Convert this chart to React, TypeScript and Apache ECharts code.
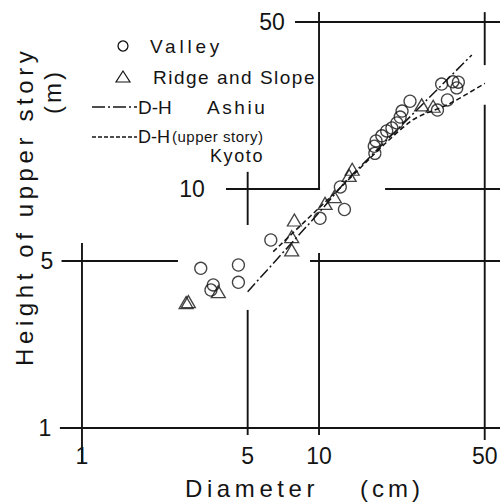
import React, { useEffect, useRef } from "react";
import * as echarts from "echarts";

// ---- data ----
const valleyD = [3.17, 3.58, 3.5, 4.57, 4.57, 6.26, 10.1, 12.8, 12.3, 17.2, 17.1, 17.4, 18.4, 19.3, 20.3, 21.3, 22.0, 22.4, 24.2, 31.6, 34.8, 32.9, 36.7, 38.7, 38.1];
const valleyH = [4.66, 3.97, 3.78, 4.81, 4.07, 6.12, 7.54, 8.21, 10.2, 14.1, 15.1, 15.9, 16.7, 17.5, 18.0, 18.9, 20.0, 21.2, 23.3, 21.4, 23.6, 27.5, 28.1, 28.0, 26.5];

const ridgeD = [2.81, 2.75, 3.76, 7.67, 7.67, 7.87, 10.6, 11.6, 13.4, 13.8, 27.1, 30.3];
const ridgeH = [3.38, 3.35, 3.72, 5.56, 6.32, 7.42, 8.71, 9.29, 11.4, 12.1, 22.5, 22.2];

// D-H curve, Ashiu
const ashiuD = [5.0, 9.94, 13.1, 44.1];
const ashiuH = [3.72, 7.91, 10.9, 36.4];

// D-H (upper story) curve, Kyoto
const kyotoD = [6.41, 12.0, 24.2, 35.7, 50.1];
const kyotoH = [5.47, 9.9, 19.1, 22.8, 27.7];

// axis extents (log scales)
const X_MIN = 0.451;
const X_MAX = 58.0;
const Y_MIN = 0.4856;
const Y_MAX = 61.8;

// tick values
const xTicks = [1, 5, 10, 50];
const yTicks = [1, 5, 10, 50];

// broken grid lines, in data units
const hLines: number[][] = [
  // [y, xFrom, xTo]
  [50, 7.92, X_MAX],
  [10, 4.05, 10.1],
  [10, 19.0, X_MAX],
  [5, 0.82, 2.54],
  [5, 9.16, X_MAX],
  [1, 0.807, X_MAX],
];
const vLines: number[][] = [
  // [x, yFrom, yTo]
  [1, 0.714, 5.94],
  [5, 0.935, 3.12],
  [5, 7.07, 11.8],
  [10, 0.935, 5.4],
  [10, 10, 55],
  [50, 0.891, 22.5],
  [50, 33, 55],
];

const INK = "#141414";
const FONT = "'Liberation Sans', Arial, Helvetica, sans-serif";

const zip = (a: number[], b: number[]) => a.map((v, i) => [v, b[i]]);

export default function App() {
  const ref = useRef<HTMLDivElement>(null);

  useEffect(() => {
    const el = ref.current!;
    const chart = echarts.init(el, null, { renderer: "svg" });

    const seg = (pts: number[][]) => ({
      type: "line",
      data: pts,
      symbol: "none",
      silent: true,
      clip: false,
      z: 1,
      lineStyle: { color: INK, width: 1.9 },
    });

    const series: any[] = [
      ...hLines.map(([y, a, b]) => seg([[a, y], [b, y]])),
      ...vLines.map(([x, a, b]) => seg([[x, a], [x, b]])),
      {
        type: "line",
        name: "D-H Ashiu",
        data: zip(ashiuD, ashiuH),
        symbol: "none",
        silent: true,
        z: 2,
        lineStyle: { color: INK, width: 1.5, type: [11, 3, 2, 3] },
      },
      {
        type: "line",
        name: "D-H(upper story) Kyoto",
        data: zip(kyotoD, kyotoH),
        symbol: "none",
        smooth: 0.3,
        silent: true,
        z: 2,
        lineStyle: { color: INK, width: 1.5, type: [5, 3] },
      },
      {
        type: "scatter",
        name: "Valley",
        data: zip(valleyD, valleyH),
        symbol: "circle",
        symbolSize: 12,
        z: 3,
        itemStyle: { color: "rgba(255,255,255,0)", borderColor: INK, borderWidth: 1.3 },
      },
      {
        type: "scatter",
        name: "Ridge and Slope",
        data: zip(ridgeD, ridgeH),
        symbol: "triangle",
        symbolSize: [14, 12],
        z: 3,
        itemStyle: { color: "rgba(255,255,255,0)", borderColor: INK, borderWidth: 1.3 },
      },
    ];

    const hidden = {
      axisLine: { show: false },
      axisTick: { show: false },
      axisLabel: { show: false },
      splitLine: { show: false },
    };

    chart.on("finished", () => applySpacing());

    chart.setOption({
      animation: false,
      backgroundColor: "#fff",
      grid: { left: 0, right: 0, top: 0, bottom: 0, containLabel: false },
      xAxis: { type: "log", logBase: 10, min: X_MIN, max: X_MAX, ...hidden },
      yAxis: { type: "log", logBase: 10, min: Y_MIN, max: Y_MAX, ...hidden },
      series,
    });

    const px = (v: number) => (chart.convertToPixel({ gridIndex: 0 }, [v, 1]) as number[])[0];
    const py = (v: number) => (chart.convertToPixel({ gridIndex: 0 }, [1, v]) as number[])[1];

    const txt = (text: string, x: number, y: number, size: number, align = "left", extra: any = {}) => ({
      type: "text",
      x,
      y,
      silent: true,
      z: 10,
      ...extra,
      style: {
        text,
        x: 0,
        y: 0,
        fill: INK,
        fontSize: size,
        fontFamily: FONT,
        align,
        textAlign: align,
        verticalAlign: "middle",
        textVerticalAlign: "middle",
      },
    });

    const yLabelX = [45, 47, 192, 272];

    const graphic: any[] = [
      // x tick labels
      ...xTicks.map((v) => txt(String(v), px(v), 456, 23, "center")),
      // y tick labels
      ...yTicks.map((v, i) => txt(String(v), yLabelX[i], py(v), 23, "center")),
      // axis titles
      txt("Diameter", 185, 488, 24, "left"),
      txt("(cm)", 360, 488, 24, "left"),
      txt("Height of upper story", 24, 366, 24, "left", { rotation: Math.PI / 2 }),
      txt("(m)", 52, 114, 24, "left", { rotation: Math.PI / 2 }),
      // legend
      {
        type: "circle",
        silent: true,
        shape: { cx: 123, cy: 46, r: 5 },
        style: { fill: "none", stroke: INK, lineWidth: 1.3 },
      },
      txt("Valley", 150, 46, 19, "left"),
      {
        type: "polygon",
        silent: true,
        shape: { points: [[123, 71], [116, 82], [130, 82]] },
        style: { fill: "none", stroke: INK, lineWidth: 1.2 },
      },
      txt("Ridge and Slope", 153, 77, 19, "left"),
      {
        type: "line",
        silent: true,
        shape: { x1: 92, y1: 107, x2: 137, y2: 107 },
        style: { stroke: INK, lineWidth: 1.5, lineDash: [13, 3, 2, 3] },
      },
      txt("D-H", 138, 107, 19, "left"),
      txt("Ashiu", 207, 107, 19, "left"),
      {
        type: "line",
        silent: true,
        shape: { x1: 92, y1: 137, x2: 137, y2: 137 },
        style: { stroke: INK, lineWidth: 1.4, lineDash: [4, 2] },
      },
      txt("D-H", 138, 137, 18, "left"),
      txt("(upper story)", 172, 136, 15, "left"),
      txt("Kyoto", 210, 156, 18, "left"),
    ];

    const spacing: Record<string, number> = {
      Diameter: 4.6,
      "(cm)": 4,
      "Height of upper story": 4.6,
      "(m)": 3,
      Valley: 3.8,
      "Ridge and Slope": 1.5,
      Ashiu: 2.6,
      Kyoto: 1.6,
      "(upper story)": 0.5,
    };

    function applySpacing() {
      el.querySelectorAll("text").forEach((t) => {
        const s = spacing[(t.textContent || "").trim()];
        if (s !== undefined) (t as SVGTextElement).style.letterSpacing = s + "px";
      });
    }

    chart.setOption({ graphic });
    applySpacing();
    const t1 = setTimeout(applySpacing, 50);
    const t2 = setTimeout(applySpacing, 300);

    return () => {
      clearTimeout(t1);
      clearTimeout(t2);
      chart.dispose();
    };
  }, []);

  return (
    <div
      ref={ref}
      style={{ position: "fixed", left: 0, top: 0, width: 500, height: 503, background: "#fff" }}
    />
  );
}
